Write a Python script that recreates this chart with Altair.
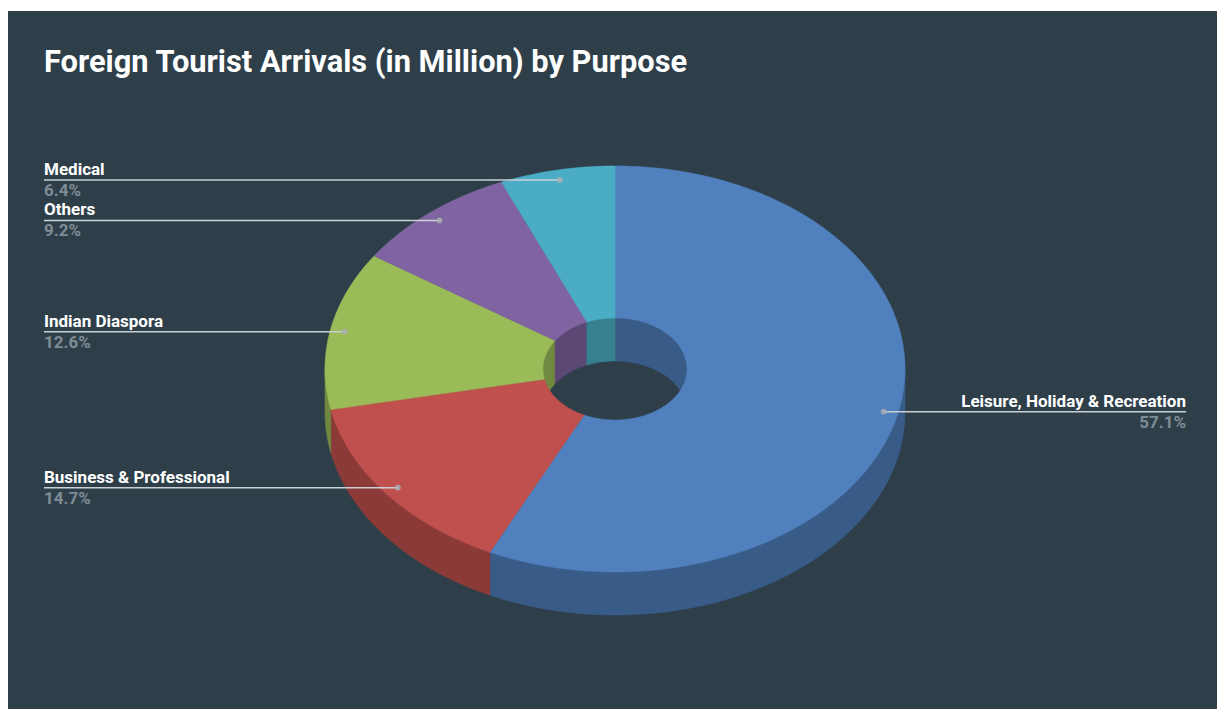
import math

import altair as alt
import pandas as pd

# Visitor purposes and their share of arrivals, clockwise from twelve o'clock
purposes = ["Leisure, Holiday & Recreation", "Business & Professional", "Indian Diaspora", "Others", "Medical"]
shares = [57.1, 14.7, 12.6, 9.2, 6.4]
face_colors = ["#5080bd", "#c0504d", "#9bbb59", "#8064a2", "#4bacc6"]
side_colors = ["#395b88", "#8c3a38", "#718841", "#5c4875", "#37808f"]

PAGE_W, PAGE_H = 1217, 709
PANEL_COLOR = "#2e3f4a"
CX, CY = 615, 369
RX, RY = 290, 203
HOLE_RX, HOLE_RY = 72, 51
DEPTH = 43
LABEL_LEFT, LABEL_RIGHT = 44, 1186
STEP = 1.0


def rim(angle, rx, ry, drop=0):
    rad = math.radians(angle)
    return CX + rx * math.sin(rad), CY - ry * math.cos(rad) + drop


def sweep(a0, a1):
    n = max(2, int(abs(a1 - a0) / STEP) + 1)
    return [a0 + (a1 - a0) * k / (n - 1) for k in range(n)]


def band(a0, a1, rx, ry):
    """Vertical wall along an elliptical arc."""
    angles = sweep(a0, a1)
    return [rim(a, rx, ry) for a in angles] + [rim(a, rx, ry, DEPTH) for a in reversed(angles)]


def ring_slice(a0, a1):
    """Flat top of a doughnut slice."""
    angles = sweep(a0, a1)
    return [rim(a, RX, RY) for a in angles] + [rim(a, HOLE_RX, HOLE_RY) for a in reversed(angles)]


def overlap(a0, a1, lo, hi):
    return max(a0, lo), min(a1, hi)


walls, faces, labels = [], [], []
start = 0.0
for name, share, face, side in zip(purposes, shares, face_colors, side_colors):
    end = start + share * 3.6
    # Outer wall is seen on the front half, inner wall on the back half
    pieces = [(overlap(start, end, 90, 270), RX, RY),
              (overlap(start, end, 270, 450), HOLE_RX, HOLE_RY),
              (overlap(start, end, -90, 90), HOLE_RX, HOLE_RY)]
    for (lo, hi), rx, ry in pieces:
        if hi > lo:
            tag = f"{name}-{rx}-{lo}"
            walls += [{"part": tag, "i": i, "px": x, "py": y, "tone": side}
                      for i, (x, y) in enumerate(band(lo, hi, rx, ry))]
    faces += [{"part": name, "i": i, "px": x, "py": y, "tone": face}
              for i, (x, y) in enumerate(ring_slice(start, end))]
    mid_x, mid_y = rim((start + end) / 2, RX * 0.95, RY * 0.95)
    right = mid_x > CX
    labels.append({
        "name": name,
        "pct": f"{share}%",
        "dot_x": mid_x,
        "dot_y": mid_y,
        "edge": LABEL_RIGHT if right else LABEL_LEFT,
        "side": "right" if right else "left",
    })
    start = end

x_scale = alt.Scale(domain=[0, PAGE_W], range=[0, PAGE_W], nice=False, zero=False)
y_scale = alt.Scale(domain=[PAGE_H, 0], range=[PAGE_H, 0], nice=False, zero=False)
X = alt.X("px:Q", scale=x_scale, axis=None)
Y = alt.Y("py:Q", scale=y_scale, axis=None)


def solid(rows):
    return alt.Chart(pd.DataFrame(rows)).mark_line(interpolate="linear-closed", strokeWidth=0.6).encode(
        x=X, y=Y,
        order="i:Q",
        detail="part:N",
        fill=alt.Fill("tone:N", scale=None, legend=None),
        stroke=alt.Stroke("tone:N", scale=None, legend=None),
    )


panel = alt.Chart(pd.DataFrame([{"x0": 8, "x1": PAGE_W, "y0": 11, "y1": PAGE_H}])).mark_rect(color=PANEL_COLOR).encode(
    x=alt.X("x0:Q", scale=x_scale, axis=None), x2="x1:Q",
    y=alt.Y("y0:Q", scale=y_scale, axis=None), y2="y1:Q",
)

title = alt.Chart(pd.DataFrame([{"px": LABEL_LEFT, "py": 63, "t": "Foreign Tourist Arrivals (in Million) by Purpose"}])).mark_text(
    align="left", baseline="middle", font="Roboto", fontSize=30.8, fontWeight=700, color="#ffffff"
).encode(x=X, y=Y, text="t:N")

label_df = pd.DataFrame(labels)
base = alt.Chart(label_df)
lx = alt.X("edge:Q", scale=x_scale, axis=None)
ly = alt.Y("dot_y:Q", scale=y_scale, axis=None)

leaders = base.mark_rule(color="#c9d1d6", strokeWidth=1.5).encode(x=lx, x2="dot_x:Q", y=ly)
dots = base.mark_circle(size=34, color="#a9aeb1", opacity=0.85).encode(
    x=alt.X("dot_x:Q", scale=x_scale, axis=None), y=ly
)


def label_text(field, baseline, dy, color, weight):
    layers = []
    for side in ("left", "right"):
        layers.append(
            base.transform_filter(alt.datum.side == side).mark_text(
                align=side, baseline=baseline, dy=dy, font="Roboto", fontSize=17,
                fontWeight=weight, color=color,
            ).encode(x=lx, y=ly, text=f"{field}:N")
        )
    return layers


chart = alt.layer(
    panel, solid(walls), solid(faces), leaders, dots, title,
    *label_text("name", "bottom", -1, "#ffffff", 700),
    *label_text("pct", "top", 3, "#7f8c96", 700),
).properties(
    width=PAGE_W, height=PAGE_H, background="#ffffff", padding=0,
    autosize=alt.AutoSizeParams(type="none"),
).configure_view(stroke=None)

chart.save("out.html", embed_options={"renderer": "svg", "actions": False})
